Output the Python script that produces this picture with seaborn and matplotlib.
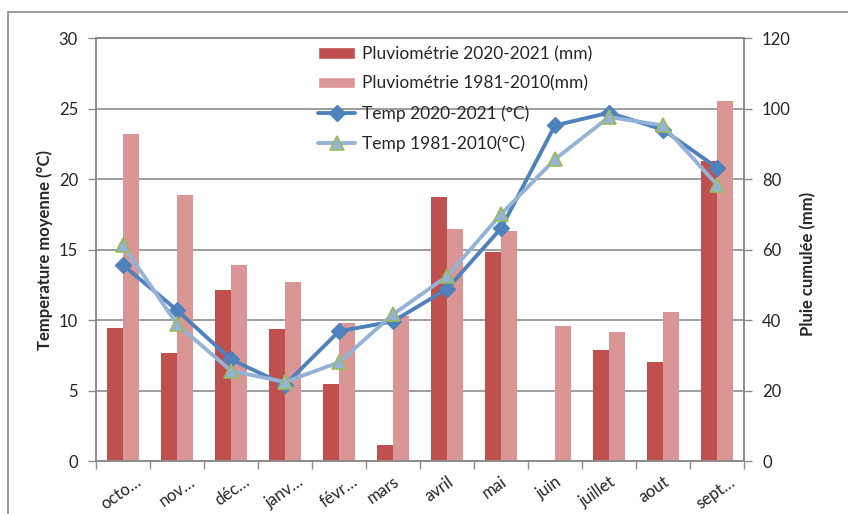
import matplotlib
matplotlib.use("Agg")
import matplotlib.pyplot as plt
from matplotlib.patches import Patch, Rectangle
from matplotlib.lines import Line2D
from matplotlib.transforms import ScaledTranslation
import seaborn as sns
import pandas as pd

# Mois de la campagne (octobre -> septembre)
mois = ["octo…", "nov…", "déc…", "janv…", "févr…", "mars", "avril",
        "mai", "juin", "juillet", "aout", "sept…"]

# Pluie cumulée mensuelle (mm)
pluie_2020_2021 = [37.7, 30.6, 48.5, 37.4, 21.8, 4.5, 74.9, 59.3, 0.0, 31.5, 28.1, 85.2]
pluie_1981_2010 = [92.8, 75.5, 55.6, 50.8, 39.2, 41.1, 65.8, 65.2, 38.3, 36.6, 42.3, 102.0]

# Température moyenne mensuelle (°C)
temp_2020_2021 = [13.9, 10.7, 7.2, 5.4, 9.2, 9.9, 12.2, 16.5, 23.8, 24.7, 23.5, 20.8]
temp_1981_2010 = [15.3, 9.7, 6.4, 5.6, 7.0, 10.4, 13.1, 17.5, 21.4, 24.4, 23.8, 19.6]

lab_p1 = "Pluviométrie 2020-2021 (mm)"
lab_p2 = "Pluviométrie 1981-2010(mm)"
lab_t1 = "Temp 2020-2021 (°C)"
lab_t2 = "Temp 1981-2010(°C)"

rouge = "#C0504D"
rose = "#D99694"
bleu = "#4F81BD"
bleu_clair = "#95B3D7"
vert = "#9BBB59"
gris = "#8C8C8C"

sns.set_theme(style="white")
plt.rcParams["font.family"] = ["Lato", "DejaVu Sans"]
plt.rcParams["font.size"] = 12

fig = plt.figure(figsize=(8.48, 5.14), dpi=100)
ax = fig.add_axes([96 / 848, 1 - 461 / 514, 648 / 848, 423 / 514])
ax2 = ax.twinx()

# Barres de pluie sur l'axe de droite
df_pluie = pd.DataFrame({
    "mois": mois * 2,
    "pluie": pluie_2020_2021 + pluie_1981_2010,
    "serie": [lab_p1] * len(mois) + [lab_p2] * len(mois),
})
sns.barplot(data=df_pluie, x="mois", y="pluie", hue="serie",
            palette={lab_p1: rouge, lab_p2: rose}, saturation=1,
            width=0.6, gap=0, errorbar=None, legend=False,
            linewidth=0, ax=ax2)

# Courbes de température sur l'axe de gauche
sns.pointplot(x=mois, y=temp_2020_2021, color=bleu, markers="D",
              linestyles="-", errorbar=None, ax=ax,
              linewidth=2.8, markersize=8, markeredgecolor=bleu,
              markeredgewidth=1)
sns.pointplot(x=mois, y=temp_1981_2010, color=bleu_clair, markers="^",
              linestyles="-", errorbar=None, ax=ax,
              linewidth=2.8, markersize=10, markerfacecolor=bleu_clair,
              markeredgecolor=vert, markeredgewidth=1.2)

# Courbes au-dessus des barres
ax.set_zorder(ax2.get_zorder() + 1)
ax.patch.set_visible(False)

ax.set_ylim(0, 30)
ax.set_yticks(range(0, 31, 5))
ax2.set_ylim(0, 120)
ax2.set_yticks(range(0, 121, 20))
ax.set_xlim(-0.5, len(mois) - 0.5)

# Quadrillage horizontal derrière les barres
ax2.set_axisbelow(True)
ax2.yaxis.grid(True, color=gris, linewidth=1.2)
ax2.xaxis.grid(False)
ax.grid(False)

for a in (ax, ax2):
    for s in a.spines.values():
        s.set_color(gris)
        s.set_linewidth(1.2)

ax.set_xticks(range(len(mois)))
ax.set_xticklabels(mois, rotation=35, ha="right", rotation_mode="anchor")
ax.set_xticks([i - 0.5 for i in range(len(mois) + 1)], minor=True)
ax.tick_params(axis="x", which="major", length=0, pad=9, labelsize=12)
ax.tick_params(axis="x", which="minor", length=6, width=1, color=gris,
               direction="out", bottom=True)
ax.tick_params(axis="y", length=6, width=1, color=gris, direction="out",
               pad=7, labelsize=12, left=True)
ax2.tick_params(axis="y", length=6, width=1, color=gris, direction="out",
                pad=7, labelsize=12, right=True)

# Les libellés abrégés sont décalés vers la droite
decalage = ScaledTranslation(12 / 100, 0, fig.dpi_scale_trans)
for lab in ax.get_xticklabels():
    if lab.get_text().endswith("…"):
        lab.set_transform(lab.get_transform() + decalage)

ax.set_xlabel("")
ax2.set_xlabel("")
ax.set_ylabel("Temperature moyenne (°C)", fontsize=12, fontweight="bold")
ax2.set_ylabel("Pluie cumulée (mm)", fontsize=12, fontweight="bold")
ax.yaxis.set_label_coords(-0.066, 0.5)
ax2.yaxis.set_label_coords(1.086, 0.466)

handles = [
    Patch(facecolor=rouge, label=lab_p1),
    Patch(facecolor=rose, label=lab_p2),
    Line2D([], [], color=bleu, marker="D", lw=2.8, ms=8, label=lab_t1),
    Line2D([], [], color=bleu_clair, marker="^", lw=2.8, ms=10,
           mfc=bleu_clair, mec=vert, mew=1.2, label=lab_t2),
]
fig.legend(handles=handles, loc="upper left",
           bbox_to_anchor=(318 / 848, 1 - 46 / 514), frameon=False,
           borderpad=0, borderaxespad=0, fontsize=12.5, labelspacing=0.78,
           handlelength=2.15, handleheight=0.6, handletextpad=0.4)

# Cadre du graphique
fig.add_artist(Rectangle((8 / 848, -0.1), 1.2, 1.1 - 12 / 514, fill=False,
                         edgecolor=gris, linewidth=1.2,
                         transform=fig.transFigure))

fig.savefig("out.png", dpi=100)
